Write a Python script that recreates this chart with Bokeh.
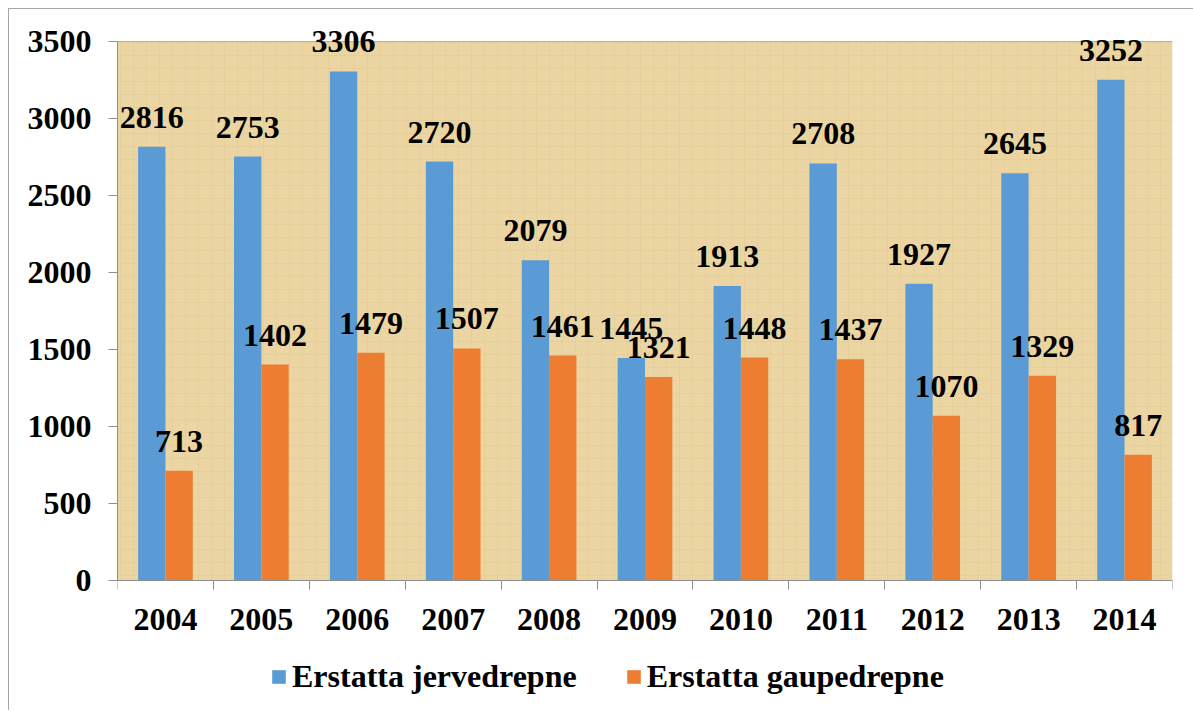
import numpy as np
from bokeh.plotting import figure
from bokeh.models import (ColumnDataSource, LabelSet, Range1d, FixedTicker,
                          Legend, LegendItem)
from bokeh.embed import file_html
from bokeh.resources import INLINE

years = ["2004", "2005", "2006", "2007", "2008", "2009", "2010",
         "2011", "2012", "2013", "2014"]
jerv = [2816, 2753, 3306, 2720, 2079, 1445, 1913, 2708, 1927, 2645, 3252]
gaupe = [713, 1402, 1479, 1507, 1461, 1321, 1448, 1437, 1070, 1329, 817]
y_ticks = [0, 500, 1000, 1500, 2000, 2500, 3000, 3500]
series_names = ["Erstatta jervedrepne", "Erstatta gaupedrepne"]

BLUE = "#5B9BD5"
ORANGE = "#ED7D31"
GRID = "#8F8F8F"
FONT = "'Liberation Serif'"
FS = "32px"
BW = 0.285

# layout (pixels)
ORG = 9                     # page offset of the figure content
W, H = 1185, 702
TOP, BOTTOM, LEFT, RIGHT = 12, 0, 108, 22
ZERO_PX, TOPTICK_PX = 580, 41   # where 0 and 3500 sit on the page
Y_MAX = y_ticks[-1]
k = (ZERO_PX - TOPTICK_PX) / Y_MAX
Y_END = (ZERO_PX - (ORG + TOP)) / k
Y_START = -((ORG + H - BOTTOM) - ZERO_PX) / k

n = len(years)
idx = np.arange(n, dtype=float)

src_j = ColumnDataSource(dict(x=idx - BW / 2, top=jerv,
                              label=[str(v) for v in jerv]))
src_g = ColumnDataSource(dict(x=idx + BW / 2, top=gaupe,
                              label=[str(v) for v in gaupe]))

p = figure(width=W, height=H, output_backend="svg", toolbar_location=None,
           x_range=Range1d(-0.5, n - 0.5), y_range=Range1d(Y_START, Y_END),
           min_border_left=LEFT, min_border_right=RIGHT, min_border_top=TOP,
           min_border_bottom=BOTTOM)
p.styles = {"margin-left": "8px", "margin-top": "8px",
            "border-top": "1px solid #A6A6A6", "border-left": "1px solid #A6A6A6"}
p.background_fill_color = "white"
p.border_fill_color = "white"
p.outline_line_color = None

# parchment-coloured plotting area (0 .. 3500)
p.quad(left=-0.5, right=n - 0.5, bottom=0, top=Y_MAX, fill_color="#EBD5A2",
       line_color=None, hatch_pattern="+", hatch_color="#C9A866",
       hatch_alpha=0.12, hatch_scale=13, hatch_weight=1)

rj = p.vbar(x="x", top="top", width=BW, bottom=0, source=src_j,
            fill_color=BLUE, line_color=None)
rg = p.vbar(x="x", top="top", width=BW, bottom=0, source=src_g,
            fill_color=ORANGE, line_color=None)

for src in (src_j, src_g):
    p.add_layout(LabelSet(x="x", y="top", text="label", source=src,
                          text_align="center", text_baseline="alphabetic",
                          y_offset=19, text_font=FONT, text_font_style="bold",
                          text_font_size=FS, text_color="black"))

# x axis at y = 0: labels at category centres, tick marks at boundaries
xt = FixedTicker(ticks=list(idx), minor_ticks=list(np.arange(n + 1) - 0.5))
p.xaxis.fixed_location = 0
p.xaxis.ticker = xt
p.xaxis.major_label_overrides = {i: y for i, y in enumerate(years)}
p.xaxis.major_tick_out = 0
p.xaxis.major_tick_in = 0
p.xaxis.minor_tick_out = 9
p.xaxis.minor_tick_in = 0
p.xaxis.minor_tick_line_color = GRID
p.xaxis.axis_line_color = GRID
p.xaxis.major_label_standoff = 19
p.xaxis.major_label_text_font = FONT
p.xaxis.major_label_text_font_style = "bold"
p.xaxis.major_label_text_font_size = FS
p.xaxis.major_label_text_color = "black"

p.yaxis.ticker = FixedTicker(ticks=y_ticks)
p.yaxis.bounds = (0, Y_MAX)
p.yaxis.major_tick_out = 9
p.yaxis.major_tick_in = 0
p.yaxis.minor_tick_line_color = None
p.yaxis.major_tick_line_color = GRID
p.yaxis.axis_line_color = GRID
p.yaxis.major_label_standoff = 17
p.yaxis.major_label_text_font = FONT
p.yaxis.major_label_text_font_style = "bold"
p.yaxis.major_label_text_font_size = FS
p.yaxis.major_label_text_color = "black"

p.xgrid.grid_line_color = None
p.ygrid.grid_line_color = GRID
p.ygrid.ticker = FixedTicker(ticks=y_ticks)

legend = Legend(items=[LegendItem(label=series_names[0], renderers=[rj]),
                       LegendItem(label=series_names[1], renderers=[rg])],
                orientation="horizontal", location=(153, 16),
                glyph_width=17, glyph_height=17, label_standoff=5,
                spacing=48, padding=0, margin=0,
                border_line_color=None, background_fill_alpha=0,
                label_text_font=FONT, label_text_font_style="bold",
                label_text_font_size=FS, label_text_color="black")
p.add_layout(legend)

open("out.html", "w").write(file_html(p, INLINE))
